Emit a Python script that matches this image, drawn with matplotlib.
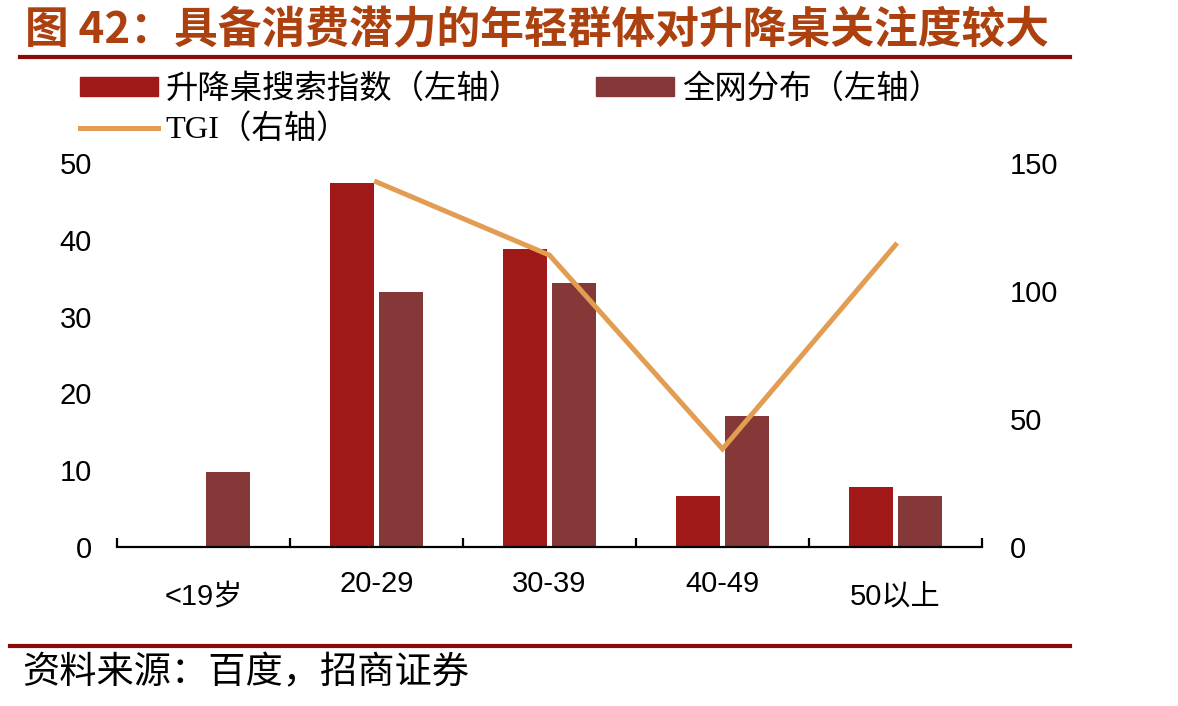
import numpy as np
import matplotlib
matplotlib.use('Agg')
import matplotlib.pyplot as plt
from matplotlib.patches import Patch
from matplotlib.lines import Line2D

plt.rcParams['font.family'] = ['Liberation Sans', 'Noto Sans CJK SC', 'DejaVu Sans']

# data
categories = ['<19岁', '20-29', '30-39', '40-49', '50以上']
search_index = [0, 47.4, 38.8, 6.6, 7.8]     # 升降桌搜索指数 (left)
overall_dist = [9.8, 33.2, 34.4, 17.1, 6.6]  # 全网分布 (left)
tgi = [np.nan, 142.6, 114.0, 38.3, 118.0]    # TGI (right)

# colours
C_SEARCH = '#A01818'
C_ALL = '#843838'
C_TGI = '#E29D52'
C_RULE = '#8C0A0A'
C_TITLE = '#AC400E'

W, H = 1178, 706
fig = plt.figure(figsize=(W / 100, H / 100), dpi=100)
ax = fig.add_axes([117 / W, 1 - 547 / H, (982 - 117) / W, (547 - 163) / H])

x = np.arange(len(categories))
bw = 0.254
ax.bar(x - 0.139, search_index, bw, color=C_SEARCH)
ax.bar(x + 0.139, overall_dist, bw, color=C_ALL)

ax.set_xlim(-0.5, len(categories) - 0.5)
ax.set_ylim(0, 50)
ax.set_yticks(np.arange(0, 51, 10))
for s in ['left', 'right', 'top']:
    ax.spines[s].set_visible(False)
ax.spines['bottom'].set_linewidth(1.6)
ax.set_xticks(np.arange(-0.5, len(categories), 1))
ax.set_xticklabels([])
ax.tick_params(axis='x', direction='in', length=6.5, width=1.6)
ax.tick_params(axis='y', length=0, pad=18, labelsize=21)

for i, lab in enumerate(categories):
    dy = 26.6 if lab.isascii() else 36
    ax.annotate(lab, (i, 0), xycoords=('data', 'axes fraction'),
                xytext=(0, -dy), textcoords='offset points',
                ha='center', va='center', fontsize=21)

ax2 = ax.twinx()
ax2.plot(x, tgi, color=C_TGI, lw=3.6, solid_joinstyle='miter')
ax2.set_ylim(0, 150)
ax2.set_yticks([0, 50, 100, 150])
for s in ax2.spines.values():
    s.set_visible(False)
ax2.tick_params(axis='y', length=0, pad=20, labelsize=21)

# legend
handles = [Patch(color=C_SEARCH), Line2D([], [], color=C_TGI, lw=3.6), Patch(color=C_ALL)]
labels = ['升降桌搜索指数（左轴）', 'TGI（右轴）', '全网分布（左轴）']
fig.legend(handles, labels, ncol=2, loc='upper left',
           bbox_to_anchor=(80 / W, 1 - 74 / H), frameon=False,
           prop=dict(family=['Liberation Serif', 'Noto Sans CJK SC'], size=23.3),
           handlelength=2.4, handleheight=0.5, handletextpad=0.25,
           columnspacing=2.3, labelspacing=0.3, borderpad=0, borderaxespad=0)

# title, rules and source
fig.text(25 / W, 1 - 30 / H, '图 42：具备消费潜力的年轻群体对升降桌关注度较大',
         fontsize=31.5, fontweight='bold', color=C_TITLE, va='center',
         family=['Noto Sans CJK SC'])
fig.add_artist(Line2D([20 / W, 1070 / W], [1 - 57 / H] * 2, color=C_RULE, lw=3))
fig.add_artist(Line2D([10 / W, 1070 / W], [1 - 646 / H] * 2, color=C_RULE, lw=3))
fig.text(22 / W, 1 - 673 / H, '资料来源：百度，招商证券', fontsize=26.8, va='center',
         family=['Noto Sans CJK SC'])

plt.savefig('out.png', dpi=100)
